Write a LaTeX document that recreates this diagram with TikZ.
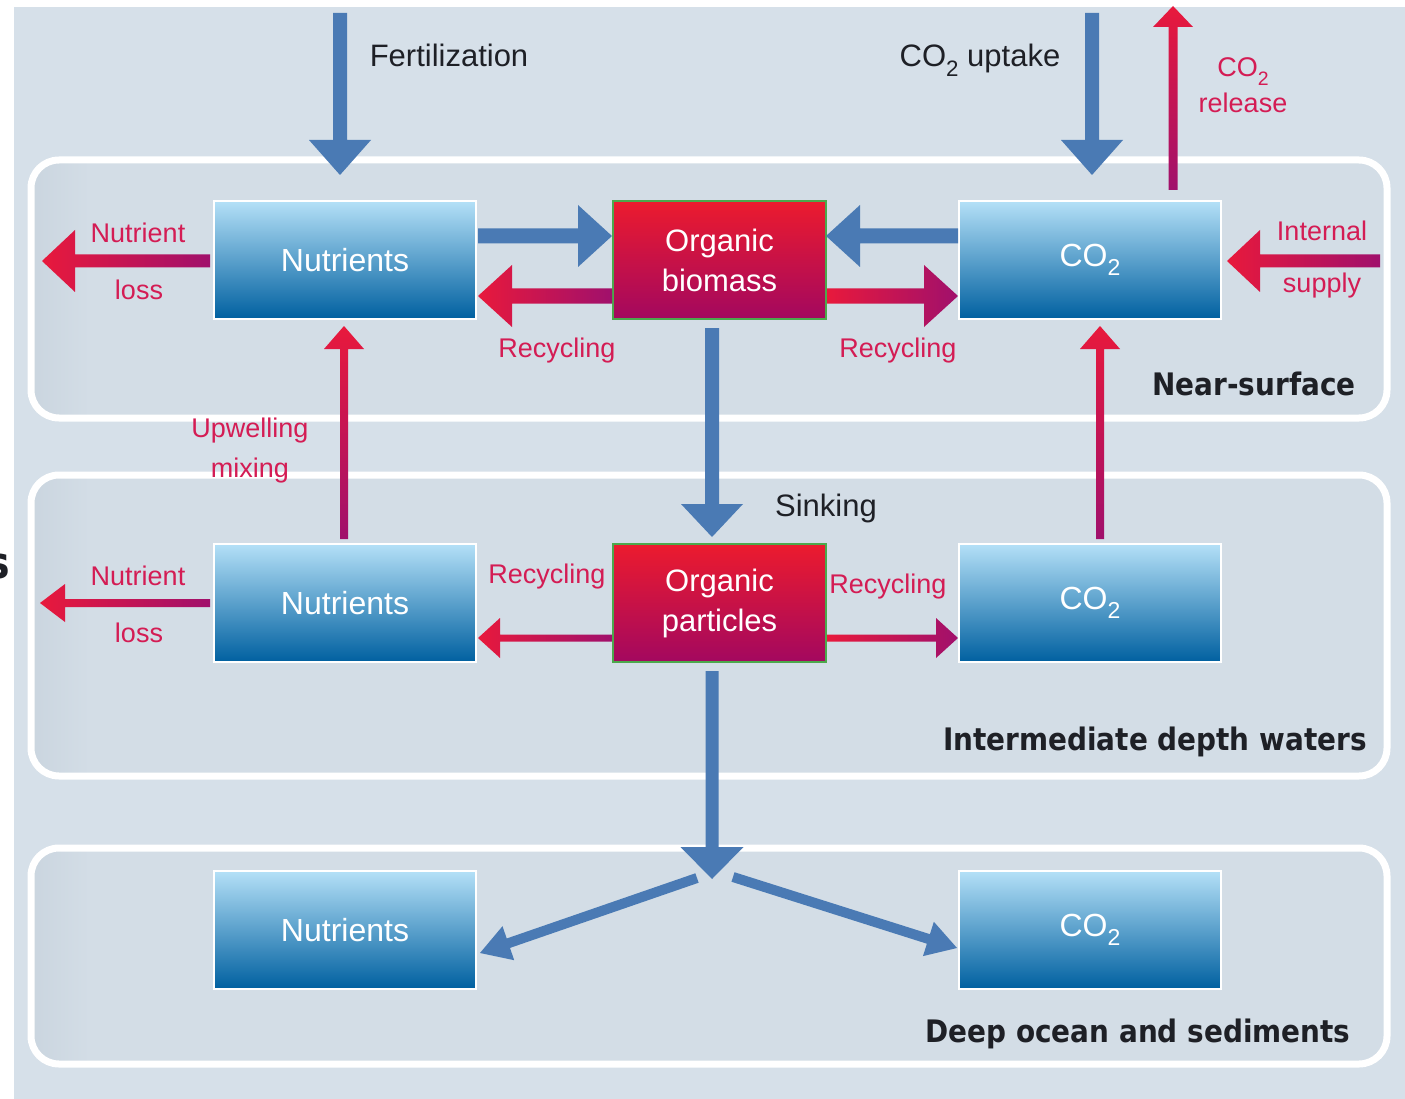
\documentclass[tikz,border=0pt]{standalone}
\usepackage{fontspec}
\usepackage{graphicx}
\setmainfont{Liberation Sans}
\newfontfamily\lblfont[FakeStretch=0.9]{DejaVu Sans}
\usetikzlibrary{calc,arrows.meta}
\definecolor{cbg}{RGB}{214,224,233}
\definecolor{cpanel}{RGB}{211,221,230}
\definecolor{cshadow}{RGB}{202,213,223}
\definecolor{cblue}{RGB}{74,122,180}
\definecolor{boxtop}{RGB}{180,224,247}
\definecolor{boxbot}{RGB}{0,96,160}
\definecolor{cred}{RGB}{232,25,60}
\definecolor{cpurp}{RGB}{160,16,108}
\definecolor{ctxt}{RGB}{212,28,84}
\definecolor{orgtop}{RGB}{236,27,46}
\definecolor{orgbot}{RGB}{163,8,95}
\definecolor{cgreen}{RGB}{76,168,76}
\definecolor{cblack}{RGB}{30,32,38}
\newcommand\subtwo{\raisebox{-0.3em}{\scalebox{0.72}{2}}}
% style, tail, tip, shaft half, head half, head length
\newcommand\fatarrow[6]{%
  \coordinate (faB) at ($(#3)!#6!(#2)$);
  \path[#1] (#3) -- ($(faB)!#5!90:(#2)$) -- ($(faB)!#4!90:(#2)$)
    -- ($(#2)!#4!-90:(#3)$) -- ($(#2)!#4!90:(#3)$)
    -- ($(faB)!#4!-90:(#2)$) -- ($(faB)!#5!-90:(#2)$) -- cycle;}
\tikzset{
  bluebox/.style={draw=white, line width=2pt, top color=boxtop, bottom color=boxbot,
    minimum width=262pt, minimum height=118pt, inner sep=0pt, text=white,
    font=\fontsize{32}{38}\selectfont},
  orgbox/.style={draw=cgreen, line width=2pt, top color=orgtop, bottom color=orgbot,
    minimum width=213pt, minimum height=118pt, inner sep=0pt, text=white, align=center,
    font=\fontsize{31}{40}\selectfont},
  blueA/.style={fill=cblue},
  redH/.style={left color=cred, right color=cpurp},
  redV/.style={top color=cred, bottom color=cpurp},
  redlbl/.style={text=ctxt, anchor=base, inner sep=0pt, font=\fontsize{27}{32}\selectfont},
  blklbl/.style={text=cblack, anchor=base, inner sep=0pt, font=\fontsize{31}{36}\selectfont},
  seclbl/.style={text=cblack, anchor=base, inner sep=0pt, font=\lblfont\bfseries\fontsize{31}{36}\selectfont},
}
\begin{document}
\begin{tikzpicture}[x=1pt,y=-1pt]
\useasboundingbox (0,0) rectangle (1405,1099);
\fill[white] (0,0) rectangle (1405,1099);
\fill[cbg] (14,7) rectangle (1405,1099);
% panels
\foreach \t/\b in {160/418, 475/776, 848/1064} {
  \fill[cpanel, rounded corners=28pt] (31,\t) rectangle (1387,\b);
  \begin{scope}
    \clip[rounded corners=28pt] (31,\t) rectangle (1387,\b);
    \shade[left color=cshadow, right color=cpanel] (31,\t) rectangle (90,\b);
  \end{scope}
  \draw[white, line width=7pt, rounded corners=28pt] (31,\t) rectangle (1387,\b);
}
% clipped letter at left edge
\node[seclbl, anchor=base east, font=\lblfont\bfseries\fontsize{44}{50}\selectfont] (cut) at (10,578) {s};
% boxes
\node[bluebox] (nut1) at (345,260) {Nutrients};
\node[orgbox] (bio) at (719.5,260) {Organic\\biomass};
\node[bluebox] (co2a) at (1090,260) {CO\subtwo};
\node[bluebox] (nut2) at (345,603) {Nutrients};
\node[orgbox] (part) at (719.5,603) {Organic\\particles};
\node[bluebox] (co2b) at (1090,603) {CO\subtwo};
\node[bluebox] (nut3) at (345,930) {Nutrients};
\node[bluebox] (co2c) at (1090,930) {CO\subtwo};
% arrow end points
\coordinate (fertS) at (340,13); \coordinate (fertT) at (340,175);
\coordinate (uptS) at (1092,13); \coordinate (uptT) at (1092,175);
\coordinate (relS) at ($(co2a.north)+(83,-10)$); \coordinate (relT) at (1173,6);
\coordinate (nl1S) at ($(nut1.west)+(-3,1)$); \coordinate (nl1T) at (42,261);
\coordinate (isS) at (1380,261); \coordinate (isT) at ($(co2a.east)+(5,1)$);
\coordinate (b1S) at ($(nut1.east)+(1,-24)$); \coordinate (b1T) at ($(bio.west)+(0,-24)$);
\coordinate (r1S) at ($(bio.west)+(0,36)$); \coordinate (r1T) at ($(nut1.east)+(1,36)$);
\coordinate (b2S) at ($(co2a.west)+(0,-24)$); \coordinate (b2T) at ($(bio.east)+(-1,-24)$);
\coordinate (r2S) at ($(bio.east)+(0,36)$); \coordinate (r2T) at ($(co2a.west)+(0,36)$);
\coordinate (sk1S) at ($(bio.south)+(-7.5,8)$); \coordinate (sk1T) at ($(part.north)+(-7.5,-6)$);
\coordinate (up1S) at ($(nut2.north)+(-1,-4)$); \coordinate (up1T) at ($(nut1.south)+(-1,6)$);
\coordinate (up2S) at ($(co2b.north)+(10,-4)$); \coordinate (up2T) at ($(co2a.south)+(10,6)$);
\coordinate (nl2S) at ($(nut2.west)+(-3,0)$); \coordinate (nl2T) at (40,603);
\coordinate (r3S) at ($(part.west)+(0,35)$); \coordinate (r3T) at ($(nut2.east)+(1,35)$);
\coordinate (r4S) at ($(part.east)+(0,35)$); \coordinate (r4T) at ($(co2b.west)+(0,35)$);
\coordinate (sk2S) at ($(part.south)+(-7.5,8)$); \coordinate (split) at (712,879);
\coordinate (brL) at (697,878); \coordinate (brLT) at ($(nut3.east)+(3,23)$);
\coordinate (brR) at (733,877); \coordinate (brRT) at ($(co2c.west)+(-1,18)$);
% arrows
\fatarrow{blueA}{fertS}{fertT}{7pt}{31pt}{35pt}
\fatarrow{blueA}{uptS}{uptT}{7pt}{31pt}{35pt}
\fatarrow{redV}{relS}{relT}{4.5pt}{20pt}{21pt}
\fatarrow{redH}{nl1S}{nl1T}{6.5pt}{31pt}{33pt}
\fatarrow{redH}{isS}{isT}{6.5pt}{31pt}{33pt}
\fatarrow{blueA}{b1S}{b1T}{7.5pt}{31pt}{34pt}
\fatarrow{redH}{r1S}{r1T}{7.5pt}{31pt}{34pt}
\fatarrow{blueA}{b2S}{b2T}{7.5pt}{31pt}{34pt}
\fatarrow{redH}{r2S}{r2T}{7.5pt}{31pt}{34pt}
\fatarrow{blueA}{sk1S}{sk1T}{7pt}{31pt}{33pt}
\fatarrow{redV}{up1S}{up1T}{4pt}{20pt}{23pt}
\fatarrow{redV}{up2S}{up2T}{4pt}{20pt}{23pt}
\fatarrow{redH}{nl2S}{nl2T}{4pt}{19pt}{25pt}
\fatarrow{redH}{r3S}{r3T}{3.5pt}{20pt}{22pt}
\fatarrow{redH}{r4S}{r4T}{3.5pt}{20pt}{22pt}
\fatarrow{blueA}{sk2S}{split}{6.5pt}{31.5pt}{32pt}
\fatarrow{blueA}{brL}{brLT}{5pt}{18pt}{30pt}
\fatarrow{blueA}{brR}{brRT}{5pt}{18pt}{30pt}
% labels
\node[blklbl] (lfert) at (449,67) {Fertilization};
\node[blklbl] (lupt) at (980,67) {CO\subtwo{} uptake};
\node[redlbl] (lrel1) at (1243,77) {CO\subtwo};
\node[redlbl] (lrel2) at (1243,113) {release};
\node[redlbl] (lnl1a) at (138,243) {Nutrient};
\node[redlbl] (lnl1b) at (139,299) {loss};
\node[redlbl] (lis1) at (1322,241) {Internal};
\node[redlbl] (lis2) at (1322,293) {supply};
\node[redlbl] (lrc1) at (557,357) {Recycling};
\node[redlbl] (lrc2) at (898,357) {Recycling};
\node[seclbl] (lnear) at (1254,395) {Near-surface};
\node[redlbl] (lup1) at (250,437) {Upwelling};
\node[redlbl] (lup2) at (250,477) {mixing};
\node[blklbl] (lsink) at (826,516) {Sinking};
\node[redlbl] (lnl2a) at (138,585) {Nutrient};
\node[redlbl] (lnl2b) at (139,642) {loss};
\node[redlbl] (lrc3) at (547,583) {Recycling};
\node[redlbl] (lrc4) at (888,593) {Recycling};
\node[seclbl] (lmid) at (1155,750) {Intermediate depth waters};
\node[seclbl] (ldeep) at (1138,1042) {Deep ocean and sediments};
\end{tikzpicture}
\end{document}
